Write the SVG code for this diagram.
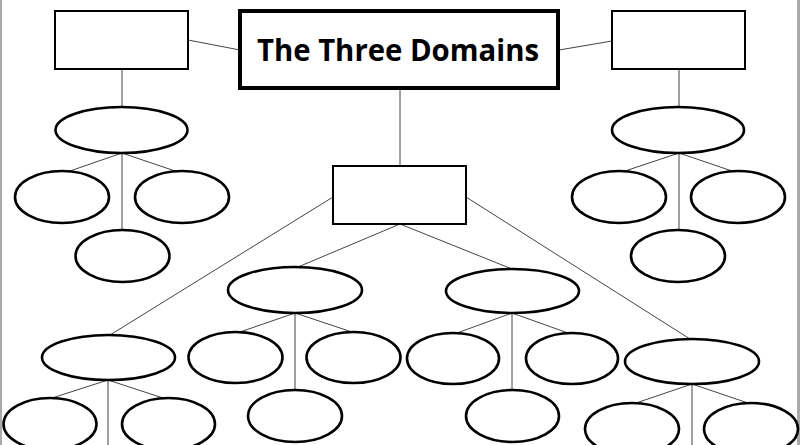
<svg xmlns="http://www.w3.org/2000/svg" width="800" height="445" viewBox="0 0 800 445">
<style>
.bx{fill:#fff;stroke:#000;stroke-width:2}
.el{fill:#fff;stroke:#000;stroke-width:2.6}
.ln{stroke:#444;stroke-width:1;fill:none}
.t{font-family:"Open Sans","Noto Sans",sans-serif;font-weight:bold;font-size:31px;fill:#000}
</style>
<rect width="800" height="445" fill="#fff"/>
<rect x="0" y="0" width="2" height="445" fill="#aaa"/>
<rect x="797" y="0" width="3" height="445" fill="#aaa"/>
<g id="connectors">
<line class="ln" x1="188" y1="40" x2="240" y2="50"/>
<line class="ln" x1="559" y1="50" x2="612" y2="41"/>
<line class="ln" x1="122" y1="69" x2="122" y2="107"/>
<line class="ln" x1="122" y1="153" x2="67" y2="172"/>
<line class="ln" x1="122" y1="153" x2="178" y2="172"/>
<line class="ln" x1="122" y1="153" x2="122" y2="230"/>
<line class="ln" x1="679" y1="69" x2="679" y2="107"/>
<line class="ln" x1="679" y1="153" x2="622" y2="172"/>
<line class="ln" x1="679" y1="153" x2="735" y2="172"/>
<line class="ln" x1="679" y1="153" x2="679" y2="230"/>
<line class="ln" x1="400" y1="89" x2="400" y2="166"/>
<line class="ln" x1="333" y1="197" x2="110" y2="335"/>
<line class="ln" x1="400" y1="224" x2="298" y2="267"/>
<line class="ln" x1="400" y1="224" x2="512" y2="269"/>
<line class="ln" x1="466" y1="197" x2="690" y2="339"/>
<line class="ln" x1="295" y1="313" x2="240" y2="332"/>
<line class="ln" x1="295" y1="313" x2="352" y2="332"/>
<line class="ln" x1="295" y1="313" x2="295" y2="390"/>
<line class="ln" x1="512" y1="313" x2="457" y2="333"/>
<line class="ln" x1="512" y1="313" x2="568" y2="333"/>
<line class="ln" x1="512" y1="313" x2="512" y2="390"/>
<line class="ln" x1="108" y1="380" x2="52" y2="398"/>
<line class="ln" x1="108" y1="380" x2="163" y2="398"/>
<line class="ln" x1="108" y1="380" x2="108" y2="445"/>
<line class="ln" x1="692" y1="384" x2="636" y2="403"/>
<line class="ln" x1="692" y1="384" x2="748" y2="403"/>
<line class="ln" x1="692" y1="384" x2="692" y2="445"/>
</g>
<g id="title"><rect x="240" y="11" width="318" height="77" fill="#fff" stroke="#000" stroke-width="4"/>
<text class="t" x="257" y="61" textLength="282" lengthAdjust="spacingAndGlyphs">The Three Domains</text></g>
<g id="box-left"><rect class="bx" x="55" y="11" width="133" height="58"/></g>
<g id="box-right"><rect class="bx" x="612" y="11" width="133" height="58"/></g>
<g id="box-center"><rect class="bx" x="333" y="166" width="133" height="58"/></g>
<g id="el-l1"><ellipse class="el" cx="121.5" cy="130" rx="66" ry="23"/></g>
<g id="el-l1a"><ellipse class="el" cx="62" cy="197" rx="47" ry="26"/></g>
<g id="el-l1b"><ellipse class="el" cx="182" cy="197" rx="47" ry="26"/></g>
<g id="el-l1c"><ellipse class="el" cx="122.5" cy="256" rx="47" ry="26"/></g>
<g id="el-r1"><ellipse class="el" cx="678" cy="130" rx="66" ry="23"/></g>
<g id="el-r1a"><ellipse class="el" cx="619" cy="197" rx="47" ry="26"/></g>
<g id="el-r1b"><ellipse class="el" cx="738" cy="197" rx="47" ry="26"/></g>
<g id="el-r1c"><ellipse class="el" cx="678" cy="256" rx="47" ry="26"/></g>
<g id="el-m1"><ellipse class="el" cx="295" cy="290" rx="67" ry="23"/></g>
<g id="el-m1a"><ellipse class="el" cx="235.5" cy="357.5" rx="47" ry="25.5"/></g>
<g id="el-m1b"><ellipse class="el" cx="353.5" cy="357.5" rx="47" ry="25.5"/></g>
<g id="el-m1c"><ellipse class="el" cx="295" cy="416" rx="47" ry="26"/></g>
<g id="el-m2"><ellipse class="el" cx="512.5" cy="291" rx="66.5" ry="22"/></g>
<g id="el-m2a"><ellipse class="el" cx="453" cy="358.5" rx="46" ry="25.5"/></g>
<g id="el-m2b"><ellipse class="el" cx="572" cy="358.5" rx="46" ry="25.5"/></g>
<g id="el-m2c"><ellipse class="el" cx="512.5" cy="416" rx="46.5" ry="26"/></g>
<g id="el-bl"><ellipse class="el" cx="108.5" cy="357.5" rx="66.5" ry="22.5"/></g>
<g id="el-bla"><ellipse class="el" cx="50" cy="424" rx="46.5" ry="26"/></g>
<g id="el-blb"><ellipse class="el" cx="168.5" cy="424" rx="46.5" ry="26"/></g>
<g id="el-br"><ellipse class="el" cx="692" cy="361.5" rx="67" ry="22.5" stroke-width="3"/></g>
<g id="el-bra"><ellipse class="el" cx="632" cy="429" rx="47" ry="26"/></g>
<g id="el-brb"><ellipse class="el" cx="751" cy="429" rx="47" ry="26"/></g>
</svg>
